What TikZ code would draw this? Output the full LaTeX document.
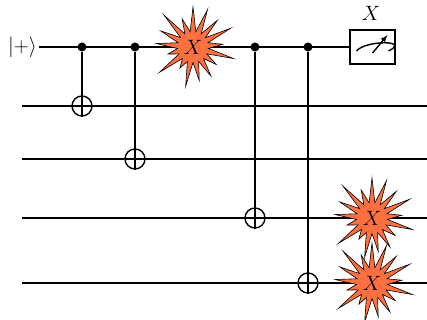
\documentclass[tikz,border=0pt]{standalone}
\usepackage{amsmath, amssymb}
\usepackage{tikz}
\usepackage[dvipsnames]{xcolor}
\definecolor{burstorange}{RGB}{255,112,64}

\tikzset{
    wire/.style={line width=1.4pt},
    control/.style={circle, fill=black, inner sep=0pt, minimum size=9pt},
    target/.style={circle, draw, line width=1.4pt, inner sep=0pt, minimum size=20pt},
    meter/.style={rectangle, draw, line width=1.4pt, fill=white, minimum width=45pt, minimum height=34pt, inner sep=0pt},
    bigtext/.style={font=\huge, inner sep=0pt},
    burst/.pic={
        \draw[fill=burstorange, line width=0.6pt, miter limit=20] (-90:40)
            \foreach \k/\r in {1/40, 2/36, 3/42, 4/30, 5/42, 6/29, 7/34, 8/34, 9/40, 10/25, 11/42, 12/26, 13/37, 14/36, 15/43, 16/30}
                { -- ({(\k-0.5)*21.18-90}:15.5) -- ({\k*21.18-90}:\r) }
            -- (-100.6:15.5) -- cycle;
    }
}

\begin{document}
\begin{tikzpicture}[x=1pt, y=-1pt]
    \useasboundingbox (0,0) rectangle (427,320);

    % The wires
    \node[bigtext] (plus) at (22.5,47) {$|{+}\rangle$};
    \coordinate (Q1) at (22,106);
    \coordinate (Q2) at (22,159);
    \coordinate (Q3) at (22,218);
    \coordinate (Q4) at (22,283);
    \foreach \i in {1, ..., 4}
        \draw[wire] (Q\i) -- ++(405,0);
    \node[meter] (M) at (372.5,47) {};
    \draw[wire] (39,47) -- (M.west);

    % The gates
    \node[control] (C1) at (82,47) {};
    \node[control] (C2) at (135,47) {};
    \node[control] (C3) at (255,47) {};
    \node[control] (C4) at (308,47) {};
    \node[target] (T1) at (82,106) {};
    \node[target] (T2) at (135,159) {};
    \node[target] (T3) at (255,218) {};
    \node[target] (T4) at (308,283) {};
    \foreach \i in {1, ..., 4}
        \draw[wire] (C\i) -- (T\i.south);

    % The meter
    \draw[wire] (M.center) ++(-16,4) .. controls ++(9,-11) and ++(23,-11) .. ++(32,0);
    \draw[wire, -latex] (M.center) ++(0,6) -- ++(15,-18);
    \node[bigtext] (XM) at (371,13) {$X$};

    % The errors
    \pic at (193,47) {burst};
    \pic at (372,218) {burst};
    \pic at (372,283) {burst};
    \node[bigtext] (X1) at (193,47) {$X$};
    \node[bigtext] (X2) at (372,218) {$X$};
    \node[bigtext] (X3) at (372,283) {$X$};
\end{tikzpicture}
\end{document}
